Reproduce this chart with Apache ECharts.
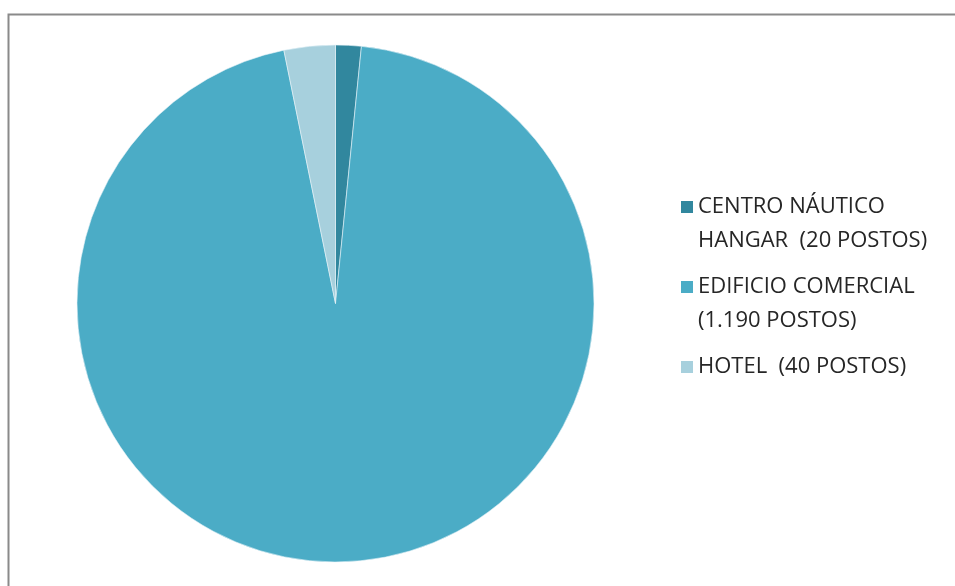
<!DOCTYPE html>
<html>
<head>
<meta charset="utf-8">
<script src="https://cdn.jsdelivr.net/npm/echarts@6/dist/echarts.min.js"></script>
<style>
    html, body { margin: 0; padding: 0; background: #fff; }
    #chart { width: 955px; height: 586px; }
</style>
</head>
<body>
<div id="chart"></div>
<script>
// dados do gráfico
let categories = ['CENTRO NÁUTICO\nHANGAR  (20 POSTOS)', 'EDIFICIO COMERCIAL\n(1.190 POSTOS)', 'HOTEL  (40 POSTOS)']
let values = [20, 1190, 40]
let colors = ['#31879e', '#4bacc6', '#a7d0dd']

let pieData = []
for (let i = 0; i < categories.length; i++) {
    pieData.push({ name: categories[i], value: values[i], itemStyle: { color: colors[i] } })
}

let myChart = echarts.init(document.getElementById('chart'))

let option = {
    animation: false,
    graphic: [{
        type: 'rect',
        shape: { x: 8.5, y: 14.5, width: 1000, height: 1000 },
        style: { fill: 'none', stroke: '#8a8a8a', lineWidth: 2 }
    }],
    legend: {
        orient: 'vertical',
        left: 676,
        top: 151,
        itemWidth: 12,
        itemHeight: 12,
        itemGap: -22,
        icon: 'rect',
        itemStyle: { borderWidth: 0 },
        // linha em branco para alinhar o ícone com a primeira linha
        formatter: function(name) {
            if (name.indexOf('\n') < 0) return ' \n' + name + '\n '
            return ' \n' + name
        },
        textStyle: {
            fontFamily: 'Open Sans',
            fontSize: 22,
            lineHeight: 34,
            color: '#262626'
        },
        data: categories
    },
    series: [{
        type: 'pie',
        center: [335.5, 303.5],
        radius: 258.5,
        startAngle: 90,
        clockwise: true,
        label: { show: false },
        labelLine: { show: false },
        emphasis: { disabled: true },
        itemStyle: { borderColor: '#e8f4f8', borderWidth: 0.6 },
        data: pieData
    }]
}

option && myChart.setOption(option)
</script>
</body>
</html>
